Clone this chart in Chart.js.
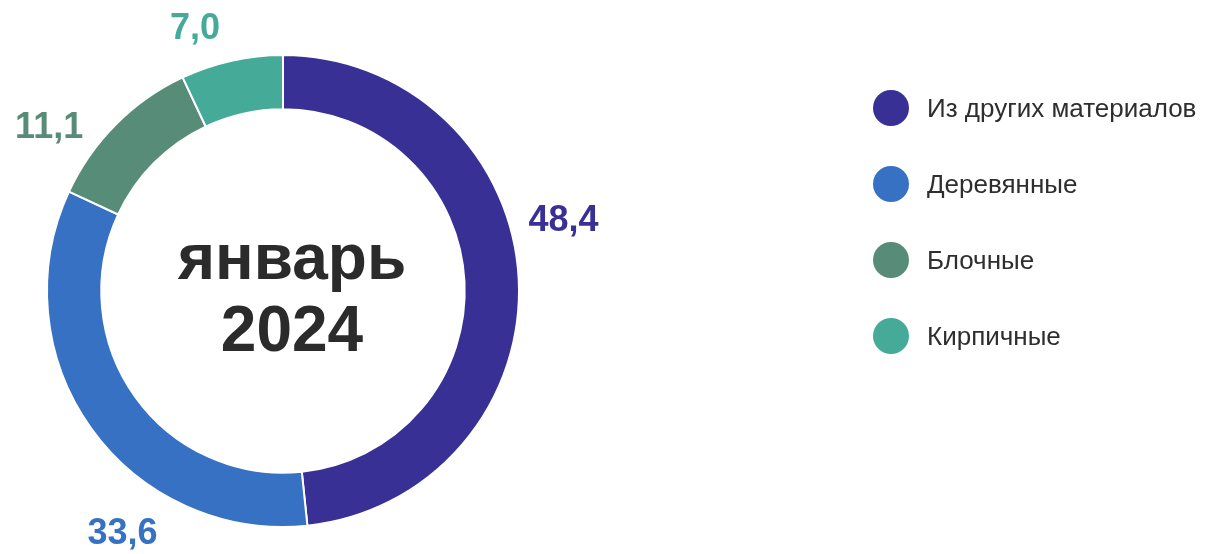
<!DOCTYPE html>
<html lang="ru">
<head>
<meta charset="utf-8">
<script src="https://cdn.jsdelivr.net/npm/chart.js@4/dist/chart.umd.min.js"></script>
<style>
  html, body { margin: 0; padding: 0; background: #fff; }
  body { width: 1208px; height: 554px; position: relative; overflow: hidden; font-family: "Liberation Sans", Arial, sans-serif; }
  #wrap { position: absolute; left: 0; top: 0; width: 1208px; height: 554px; }
  .legend { position: absolute; left: 873px; top: 90px; }
  .legend-item { display: flex; align-items: center; height: 36px; margin-bottom: 40px; font-size: 26px; color: #2e2e2e; white-space: nowrap; }
  .legend-dot { width: 36px; height: 36px; border-radius: 50%; margin-right: 18px; flex: none; }
</style>
</head>
<body>
<div id="wrap"><canvas id="donut"></canvas></div>
<div class="legend" id="legend"></div>
<script>
const categories = ['Из других материалов', 'Деревянные', 'Блочные', 'Кирпичные'];
const values = [48.4, 33.6, 11.1, 7.0];
const colors = ['#383094', '#3671C4', '#578C79', '#45AA98'];
const centerLines = ['январь', '2024'];
// label nudges (angle in degrees, distance past the ring in px)
const labelShift = [-11, -21, -10, -6];
const labelGap = [53, 55, 49, 40];

document.addEventListener('DOMContentLoaded', () => {
  const legendEl = document.getElementById('legend');
  legendEl.innerHTML = categories.map((c, i) => `
    <div class="legend-item"><div class="legend-dot" style="background:${colors[i]}"></div>${c}</div>
  `).join('');

  const outsideLabels = {
    id: 'outsideLabels',
    afterDatasetsDraw(chart) {
      const ctx = chart.ctx;
      const meta = chart.getDatasetMeta(0);
      ctx.save();
      ctx.font = 'bold 36px "Liberation Sans", Arial, sans-serif';
      ctx.textAlign = 'center';
      ctx.textBaseline = 'middle';
      meta.data.forEach((arc, i) => {
        const p = arc.getProps(['x', 'y', 'startAngle', 'endAngle', 'outerRadius'], true);
        const mid = (p.startAngle + p.endAngle) / 2 + labelShift[i] * Math.PI / 180;
        const r = p.outerRadius + labelGap[i];
        ctx.fillStyle = colors[i];
        ctx.fillText(values[i].toFixed(1).replace('.', ','), p.x + r * Math.cos(mid), p.y + r * Math.sin(mid));
      });
      // center text
      const a = meta.data[0];
      ctx.fillStyle = '#2b2b2b';
      ctx.font = 'bold 64px "Liberation Sans", Arial, sans-serif';
      ctx.fillText(centerLines[0], a.x + 9, a.y - 30);
      ctx.fillText(centerLines[1], a.x + 9, a.y + 42);
      ctx.restore();
    }
  };

  new Chart(document.getElementById('donut'), {
    type: 'doughnut',
    data: {
      labels: categories,
      datasets: [{
        data: values,
        backgroundColor: colors,
        borderColor: '#ffffff',
        borderWidth: 2,
        hoverOffset: 0
      }]
    },
    options: {
      responsive: true,
      maintainAspectRatio: false,
      animation: false,
      cutout: '77%',
      layout: { padding: { left: 46, right: 688, top: 54, bottom: 26 } },
      plugins: {
        legend: { display: false },
        tooltip: { enabled: false }
      }
    },
    plugins: [outsideLabels]
  });
});
</script>
</body>
</html>
